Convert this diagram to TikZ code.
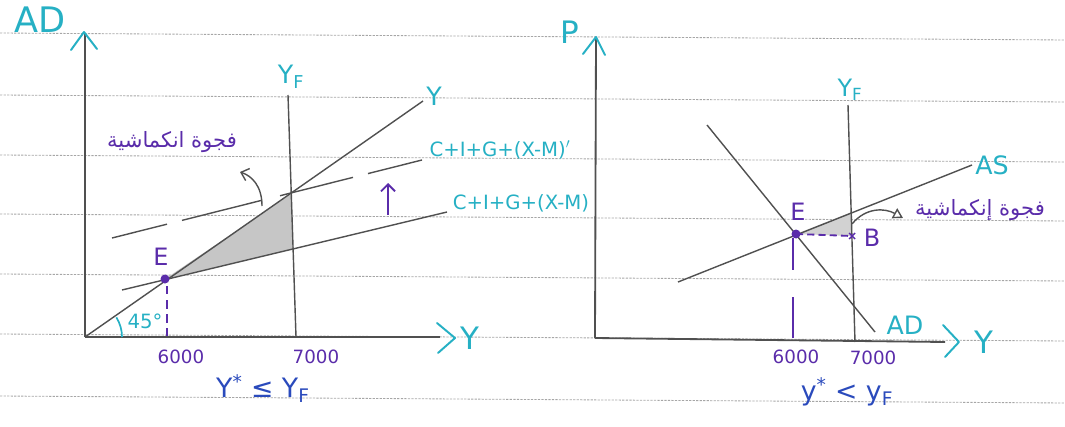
\documentclass[tikz,border=0pt]{standalone}
\usepackage{fontspec}
\setmainfont{DejaVu Sans}
\newfontfamily\arabicfont[Script=Arabic]{DejaVu Sans}
\TeXXeTstate=1
\usetikzlibrary{arrows.meta}
\definecolor{hcyan}{RGB}{38,176,196}
\definecolor{hpurple}{RGB}{90,44,170}
\definecolor{hblue}{RGB}{42,74,188}
\definecolor{pencil}{RGB}{80,80,80}
\tikzset{
  ruled/.style={gray!70,line width=0.6pt,dash pattern=on 1.6pt off 0.9pt},
  axisline/.style={pencil,line width=1.3pt},
  pline/.style={pencil,line width=1pt},
  chevron/.style={hcyan,line width=1.4pt,line cap=round,line join=round},
  cyantext/.style={hcyan,inner sep=0pt,font=\fontsize{#1}{#1}\selectfont},
  purpletext/.style={hpurple,inner sep=0pt,font=\fontsize{#1}{#1}\selectfont},
  gapfill/.style={fill=gray!45,draw=none},
}
\begin{document}
\begin{tikzpicture}[x=0.025cm,y=-0.025cm]
  \useasboundingbox (0,0) rectangle (1065,427);

  % 横格线
  \foreach \yy in {33,95,155,214,274,334,396}
    \draw[ruled] (0,\yy) -- (1065,\yy+7);

  % ===== 左图：45度线模型 =====
  \coordinate (O1) at (85,337);
  \coordinate (E1) at (165,279);
  \coordinate (T1) at (291,194);
  \coordinate (B1) at (293,249);
  \fill[gapfill] (E1) -- (T1) -- (B1) -- cycle;

  \draw[axisline] (O1) -- (85,33);
  \draw[axisline] (O1) -- (440,337);
  \draw[chevron] (71,50) -- (84,32) -- (97,49);
  \draw[chevron] (437,323) -- (455,338) -- (438,353);
  \node[cyantext=25] (ad1) at (40,20) {AD};
  \node[cyantext=22] (y1) at (470,338) {Y};

  \draw[pline] (O1) -- (423,101);
  \node[cyantext=18] (ylbl) at (434,96) {Y};
  \draw[pline] (288,95) -- (296,337);
  \node[cyantext=18] (yf1) at (291,77) {Y\textsubscript{F}};

  \draw[pline] (122,290) -- (447,212);
  \node[cyantext=14] (cig) at (521,203) {C+I+G+(X-M)};
  \foreach \a/\b in {112/167,182/262,280/353,368/422}
    \draw[pline] (\a,238-0.2516*\a+0.2516*112) -- (\b,238-0.2516*\b+0.2516*112);
  \node[cyantext=14] (cigp) at (500,150) {C+I+G+(X-M)$'$};

  % 箭头与标注
  \draw[pline,-{Straight Barb[length=5pt,width=9pt]}] (262,206) .. controls (262,186) and (252,176) .. (240,172);
  \draw[hpurple,line width=1.3pt,-{Straight Barb[length=5pt,width=10pt]}] (388,215) -- (388,183);
  \node[purpletext=15] (gap1) at (172,142) {\arabicfont\beginR فجوة انكماشية\endR};

  \fill[hpurple] (E1) circle (4.5);
  \node[purpletext=17] (e1) at (161,257) {E};
  \draw[hpurple,line width=1.3pt,dash pattern=on 6pt off 4pt] (167,286) -- (167,336);
  \draw[hcyan,line width=1.2pt] (O1) ++(0:37) arc (0:-32:37);
  \node[cyantext=14] (deg) at (145,321) {45°};
  \node[purpletext=13] (n6a) at (181,357) {6000};
  \node[purpletext=13] (n7a) at (316,357) {7000};
  \node[hblue,inner sep=0pt,font=\fontsize{19}{19}\selectfont] (cmp1) at (263,389) {Y\textsuperscript{*} ≤ Y\textsubscript{F}};

  % ===== 右图：AD-AS 模型 =====
  \coordinate (O2) at (595,338);
  \coordinate (E2) at (796,234);
  \coordinate (B2) at (852,236);
  \coordinate (T2) at (852,212);
  \fill[gray!35] (E2) -- (T2) -- (B2) -- cycle;

  \draw[axisline] (O2) -- (596,38);
  \draw[axisline] (O2) -- (945,342);
  \draw[chevron] (583,54) -- (596,37) -- (605,55);
  \draw[chevron] (943,325) -- (959,342) -- (945,357);
  \node[cyantext=22] (p2) at (570,32) {P};
  \node[cyantext=22] (y2) at (984,342) {Y};

  \draw[pline] (848,105) -- (855,342);
  \node[cyantext=17] (yf2) at (850,90) {Y\textsubscript{F}};
  \draw[pline] (707,125) -- (875,332);
  \node[cyantext=18] (adlbl) at (905,325) {AD};
  \draw[pline] (678,282) -- (972,165);
  \node[cyantext=18] (aslbl) at (992,165) {AS};

  \fill[hpurple] (E2) circle (4.5);
  \node[purpletext=17] (e2) at (798,212) {E};
  \draw[hpurple,line width=1.3pt,dash pattern=on 5pt off 3pt] (E2) -- (B2);
  \draw[hpurple,line width=1pt] (B2) ++(-3,-3) -- ++(6,6) ++(-6,0) -- ++(6,-6);
  \node[purpletext=17] (b2) at (872,238) {B};
  \draw[hpurple,line width=1.3pt] (793,238) -- (793,270);
  \draw[hpurple,line width=1.3pt] (793,297) -- (793,338);

  \draw[pline,-{Triangle[open,length=7pt,width=8pt]}] (852,224) .. controls (866,207) and (885,208) .. (903,218);
  \node[purpletext=15] (gap2) at (980,210) {\arabicfont\beginR فجوة إنكماشية\endR};

  \node[purpletext=13] (n6b) at (796,357) {6000};
  \node[purpletext=13] (n7b) at (873,358) {7000};
  \node[hblue,inner sep=0pt,font=\fontsize{19}{19}\selectfont] (cmp2) at (847,392) {y\textsuperscript{*} < y\textsubscript{F}};
\end{tikzpicture}
\end{document}
